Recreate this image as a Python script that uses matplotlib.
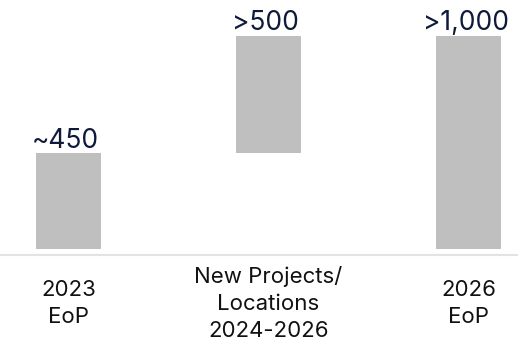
import matplotlib
matplotlib.use("Agg")
import matplotlib.pyplot as plt

# waterfall: starting count, growth from new projects, end count
categories = ["2023\nEoP", "New Projects/\nLocations\n2024-2026", "2026\nEoP"]
start_2023 = 450
end_2026 = 1000
value_labels = ["~450", ">500", ">1,000"]

bottoms = [0, start_2023, 0]
heights = [start_2023, end_2026 - start_2023, end_2026]
tops = [b + h for b, h in zip(bottoms, heights)]

plt.rcParams["font.family"] = ["Inter", "DejaVu Sans"]

fig = plt.figure(figsize=(5.18, 3.46), dpi=100)
ax = fig.add_axes([0, (346 - 255) / 346, 1, 255 / 346])

x = range(len(categories))
ax.bar(x, heights, bottom=bottoms, width=0.325, color="#bfbfbf", edgecolor="none")

for xi, top, lab in zip(x, tops, value_labels):
    ax.annotate(lab, (xi, top), xytext=(-2, 4), textcoords="offset points",
                ha="center", va="baseline", fontsize=19, color="#0f1a3a")

ax.set_xlim(-0.3425, 2.2475)
ax.set_ylim(-28, 1169)

ax.set_xticks(list(x))
ax.set_xticklabels(categories, fontsize=16, color="#111111")
ax.tick_params(axis="x", length=0, pad=35)
for t in ax.get_xticklabels():
    t.set_va("center")
    t.set_linespacing(1.45)
ax.set_yticks([])

for s in ["top", "left", "right"]:
    ax.spines[s].set_visible(False)
ax.spines["bottom"].set_color("#e3e3e3")
ax.spines["bottom"].set_linewidth(1.5)

fig.savefig("out.png", dpi=100)
